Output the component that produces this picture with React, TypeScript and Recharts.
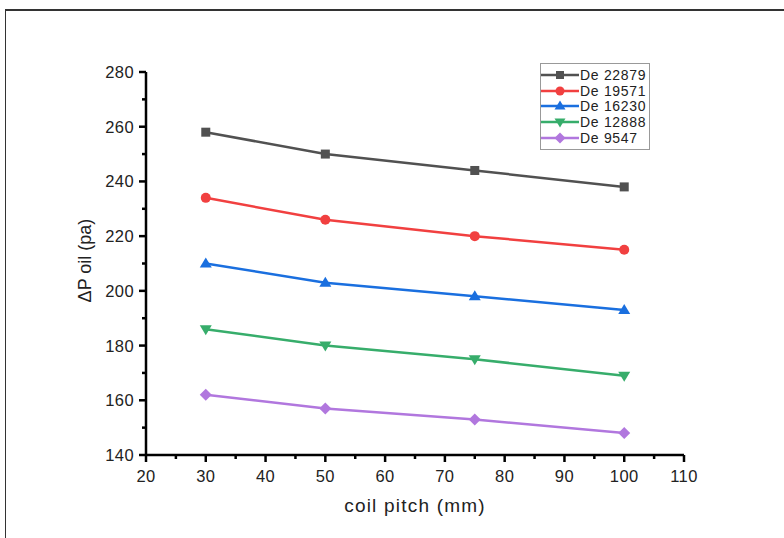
import { LineChart, Line, XAxis, YAxis, Legend, Label } from "recharts"

const pitch = [30, 50, 75, 100]
const de22879 = [258, 250, 244, 238]
const de19571 = [234, 226, 220, 215]
const de16230 = [210, 203, 198, 193]
const de12888 = [186, 180, 175, 169]
const de9547 = [162, 157, 153, 148]

const xTicks = [20, 25, 30, 35, 40, 45, 50, 55, 60, 65, 70, 75, 80, 85, 90, 95, 100, 105, 110]
const yTicks = [140, 150, 160, 170, 180, 190, 200, 210, 220, 230, 240, 250, 260, 270, 280]

const FONT = "'Liberation Sans', Arial, sans-serif"

const series = [
  { key: "a", name: "De 22879", values: de22879, color: "#515151", shape: "square" },
  { key: "b", name: "De 19571", values: de19571, color: "#F14040", shape: "circle" },
  { key: "c", name: "De 16230", values: de16230, color: "#1A6FDF", shape: "up" },
  { key: "d", name: "De 12888", values: de12888, color: "#37AD6B", shape: "down" },
  { key: "e", name: "De 9547", values: de9547, color: "#B177DE", shape: "diamond" },
]

const data = pitch.map((p, i) => {
  const row: Record<string, number> = { pitch: p }
  series.forEach((s) => (row[s.key] = s.values[i]))
  return row
})

function Marker({ cx, cy, shape, color, r = 5 }: any) {
  if (cx == null || cy == null) return null
  if (shape === "square") return <rect x={cx - r + 0.5} y={cy - r + 0.5} width={2 * r - 1} height={2 * r - 1} fill={color} />
  if (shape === "circle") return <circle cx={cx} cy={cy} r={r} fill={color} />
  if (shape === "up")
    return <polygon points={`${cx},${cy - r - 1} ${cx - r - 1},${cy + r - 1} ${cx + r + 1},${cy + r - 1}`} fill={color} />
  if (shape === "down")
    return <polygon points={`${cx},${cy + r + 1} ${cx - r - 1},${cy - r + 1} ${cx + r + 1},${cy - r + 1}`} fill={color} />
  return <polygon points={`${cx},${cy - r - 1} ${cx + r + 1},${cy} ${cx},${cy + r + 1} ${cx - r - 1},${cy}`} fill={color} />
}

function XTick({ x, y, payload }: any) {
  const major = payload.value % 10 === 0
  return (
    <g>
      <line x1={x} x2={x} y1={y} y2={y + (major ? 7 : 4)} stroke="#000" strokeWidth={2.5} />
      {major && (
        <text x={x} y={y + 15} dy="0.71em" textAnchor="middle" fontSize={16.5} letterSpacing={0.4} fill="#222" fontFamily={FONT}>
          {payload.value}
        </text>
      )}
    </g>
  )
}

function YTick({ x, y, payload }: any) {
  const major = payload.value % 20 === 0
  return (
    <g>
      <line x1={x} x2={x - (major ? 7 : 4)} y1={y} y2={y} stroke="#000" strokeWidth={2.5} />
      {major && (
        <text x={x - 12} y={y} dy="0.36em" textAnchor="end" fontSize={16.5} letterSpacing={0.4} fill="#222" fontFamily={FONT}>
          {payload.value}
        </text>
      )}
    </g>
  )
}

function LegendBox() {
  return (
    <div
      style={{
        border: "1px solid #999",
        padding: "3px 3px 3px 0",
        background: "#fff",
        fontFamily: FONT,
        fontSize: 14,
        letterSpacing: 0.7,
        color: "#222",
      }}
    >
      {series.map((s) => (
        <div key={s.key} style={{ display: "flex", alignItems: "center", height: 15.8 }}>
          <svg width={38} height={14}>
            <line x1={0} x2={38} y1={7} y2={7} stroke={s.color} strokeWidth={2.5} />
            <Marker cx={19} cy={7} shape={s.shape} color={s.color} r={4.5} />
          </svg>
          <span style={{ marginLeft: 1, lineHeight: "14px" }}>{s.name}</span>
        </div>
      ))}
    </div>
  )
}

export default function App() {
  return (
    <div style={{ position: "fixed", left: 0, top: 0, width: 784, height: 538, background: "#fff" }}>
      <div
        style={{
          position: "absolute",
          left: 5,
          top: 9,
          width: 779,
          height: 529,
          borderTop: "2px solid #333",
          borderLeft: "1.5px solid #333",
          boxSizing: "border-box",
        }}
      />
      <div style={{ position: "absolute", left: 0, top: 0 }}>
        <LineChart width={784} height={538} data={data} margin={{ top: 72, right: 100, left: 86, bottom: 23 }}>
          <XAxis
            type="number"
            dataKey="pitch"
            domain={[20, 110]}
            ticks={xTicks}
            interval={0}
            tickSize={0}
            tickMargin={0}
            tickLine={false}
            tick={<XTick />}
            height={60}
            axisLine={{ stroke: "#000", strokeWidth: 2.5 }}
          >
            <Label
              content={({ viewBox }: any) => (
                <text
                  x={viewBox.x + viewBox.width / 2}
                  y={viewBox.y + 57}
                  textAnchor="middle"
                  fontSize={19}
                  letterSpacing={1.2}
                  fill="#222"
                  fontFamily={FONT}
                >
                  coil pitch (mm)
                </text>
              )}
            />
          </XAxis>
          <YAxis
            type="number"
            domain={[140, 280]}
            ticks={yTicks}
            interval={0}
            tickSize={0}
            tickMargin={0}
            tickLine={false}
            tick={<YTick />}
            width={60}
            axisLine={{ stroke: "#000", strokeWidth: 2.5 }}
          >
            <Label
              content={({ viewBox }: any) => {
                const cx = viewBox.x + 5
                const cy = viewBox.y + viewBox.height / 2 - 3
                return (
                  <text
                    x={cx}
                    y={cy}
                    transform={`rotate(-90 ${cx} ${cy})`}
                    textAnchor="middle"
                    fontSize={18}
                    fill="#222"
                    fontFamily={FONT}
                  >
                    ΔP oil (pa)
                  </text>
                )
              }}
            />
          </YAxis>
          <Legend
            layout="vertical"
            align="center"
            verticalAlign="middle"
            wrapperStyle={{ top: 63, left: 540, width: "auto", height: "auto" }}
            content={() => <LegendBox />}
          />
          {series.map((s) => (
            <Line
              key={s.key}
              dataKey={s.key}
              name={s.name}
              type="linear"
              stroke={s.color}
              strokeWidth={2.5}
              isAnimationActive={false}
              dot={(p: any) => <Marker key={`${s.key}-${p.index}`} cx={p.cx} cy={p.cy} shape={s.shape} color={s.color} />}
              activeDot={false}
            />
          ))}
        </LineChart>
      </div>
    </div>
  )
}
